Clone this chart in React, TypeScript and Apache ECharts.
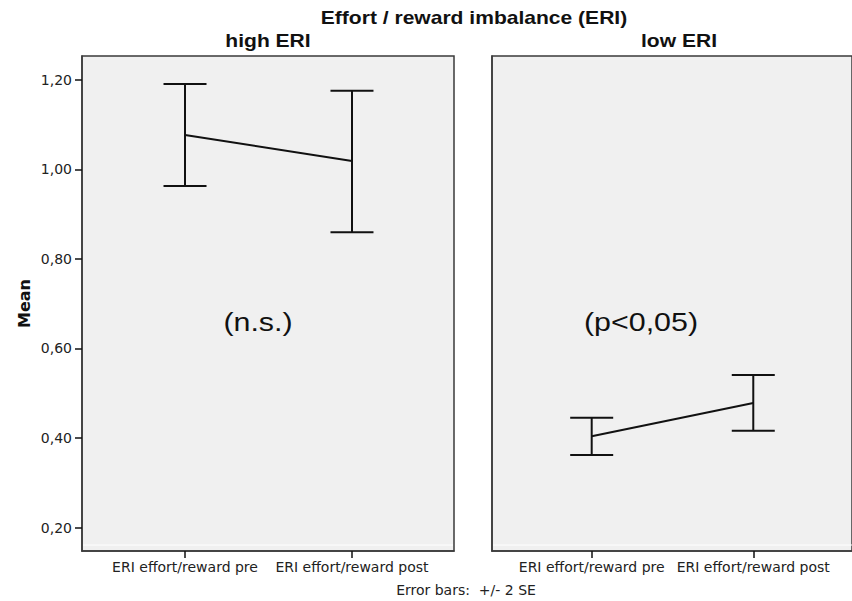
import React, { useEffect, useRef } from "react";
import * as echarts from "echarts";

const mainTitle = "Effort / reward imbalance (ERI)";
const panelTitles = ["high ERI", "low ERI"];
const conditions = ["ERI effort/reward pre", "ERI effort/reward post"];
const highMean = [1.077, 1.019];
const highLower = [0.963, 0.86];
const highUpper = [1.191, 1.176];
const lowMean = [0.404, 0.478];
const lowLower = [0.362, 0.416];
const lowUpper = [0.445, 0.541];
const yTicks = [0.2, 0.4, 0.6, 0.8, 1.0, 1.2];
const annotations = ["(n.s.)", "(p<0,05)"];
const yName = "Mean";
const footnote = "Error bars:  +/- 2 SE";

const FONT = "'DejaVu Sans', 'Liberation Sans', sans-serif";
const ARIAL = "'Liberation Sans', Arial, sans-serif";
const STRETCH = 1.17;
const BORDER = "#3a3a3a";
const INK = "#111111";

function errorBarSeries(idx: number, lower: number[], upper: number[]) {
  return {
    type: "custom",
    xAxisIndex: idx,
    yAxisIndex: idx,
    silent: true,
    data: conditions.map((_, i) => [i, lower[i], upper[i]]),
    renderItem: (params: any, api: any) => {
      const x = api.value(0);
      const lo = api.coord([x, api.value(1)]);
      const hi = api.coord([x, api.value(2)]);
      const hw = 21.5;
      const style = { stroke: INK, lineWidth: 2 };
      return {
        type: "group",
        children: [
          { type: "line", shape: { x1: lo[0], y1: lo[1], x2: hi[0], y2: hi[1] }, style },
          { type: "line", shape: { x1: hi[0] - hw, y1: hi[1], x2: hi[0] + hw, y2: hi[1] }, style },
          { type: "line", shape: { x1: lo[0] - hw, y1: lo[1], x2: lo[0] + hw, y2: lo[1] }, style },
        ],
      };
    },
  };
}

function meanSeries(idx: number, means: number[]) {
  return {
    type: "line",
    xAxisIndex: idx,
    yAxisIndex: idx,
    symbol: "none",
    silent: true,
    lineStyle: { color: INK, width: 2 },
    data: means.map((m, i) => [i, m]),
  };
}

function label(text: string, x: number, y: number, font: string, fill = INK) {
  return {
    type: "text",
    x,
    y,
    scaleX: STRETCH,
    style: { text, align: "center", verticalAlign: "middle", font, fill },
  };
}

export default function App() {
  const ref = useRef<HTMLDivElement>(null);
  useEffect(() => {
    if (!ref.current) return;
    const chart = echarts.init(ref.current, undefined, { renderer: "svg" });
    const gridBase = {
      top: 56,
      width: 372,
      height: 495,
      show: true,
      backgroundColor: "#f0f0f0",
      borderColor: BORDER,
      borderWidth: 1.5,
    };
    const xAxes = [0, 1].map((i) => ({
      type: "value",
      gridIndex: i,
      min: -0.617,
      max: 1.611,
      splitLine: { show: false },
      axisLine: { show: true, onZero: false, lineStyle: { color: BORDER, width: 1.5 } },
      axisTick: { show: true, length: 7, customValues: [0, 1], lineStyle: { color: INK, width: 1.5 } },
      axisLabel: {
        customValues: [0, 1],
        formatter: (v: number) => conditions[Math.round(v)],
        margin: 9,
        color: "#222",
        fontSize: 14,
        fontFamily: FONT,
      },
    }));
    const yBase = {
      type: "value",
      min: 0.1475,
      max: 1.2536,
      splitLine: { show: false },
      axisLine: { show: true, onZero: false, lineStyle: { color: BORDER, width: 1.5 } },
    };
    const option = {
      animation: false,
      backgroundColor: "#ffffff",
      grid: [
        { ...gridBase, left: 82 },
        { ...gridBase, left: 492 },
      ],
      xAxis: xAxes,
      yAxis: [
        {
          ...yBase,
          gridIndex: 0,
          axisTick: { show: true, length: 7, customValues: yTicks, lineStyle: { color: INK, width: 1.5 } },
          axisLabel: {
            customValues: yTicks,
            formatter: (v: number) => v.toFixed(2).replace(".", ","),
            margin: 10,
            color: "#222",
            fontSize: 14,
            fontFamily: FONT,
          },
          name: yName,
          nameLocation: "middle",
          nameGap: 50,
          nameTextStyle: { fontWeight: "bold", fontSize: 16, fontFamily: FONT, color: INK },
        },
        {
          ...yBase,
          gridIndex: 1,
          axisTick: { show: false },
          axisLabel: { show: false },
        },
      ],
      graphic: [
        label(mainTitle, 474, 18, `bold 18px ${ARIAL}`),
        label(panelTitles[0], 268, 41, `bold 18px ${ARIAL}`),
        label(panelTitles[1], 679, 41, `bold 18px ${ARIAL}`),
        label(annotations[0], 258, 322, `26px ${ARIAL}`),
        label(annotations[1], 641, 322, `26px ${ARIAL}`),
        {
          type: "text",
          x: 466,
          y: 590,
          style: { text: footnote, align: "center", verticalAlign: "middle", font: `14px ${FONT}`, fill: "#222" },
        },
        {
          type: "line",
          shape: { x1: 83, y1: 545, x2: 453, y2: 545 },
          style: { stroke: "#ffffff", lineWidth: 1 },
        },
        {
          type: "line",
          shape: { x1: 493, y1: 545, x2: 852, y2: 545 },
          style: { stroke: "#ffffff", lineWidth: 1 },
        },
      ],
      series: [
        meanSeries(0, highMean),
        errorBarSeries(0, highLower, highUpper),
        meanSeries(1, lowMean),
        errorBarSeries(1, lowLower, lowUpper),
      ],
    };
    chart.setOption(option as any);
    return () => chart.dispose();
  }, []);
  return (
    <div
      ref={ref}
      style={{ position: "absolute", left: 0, top: 0, width: 852, height: 601 }}
    />
  );
}
